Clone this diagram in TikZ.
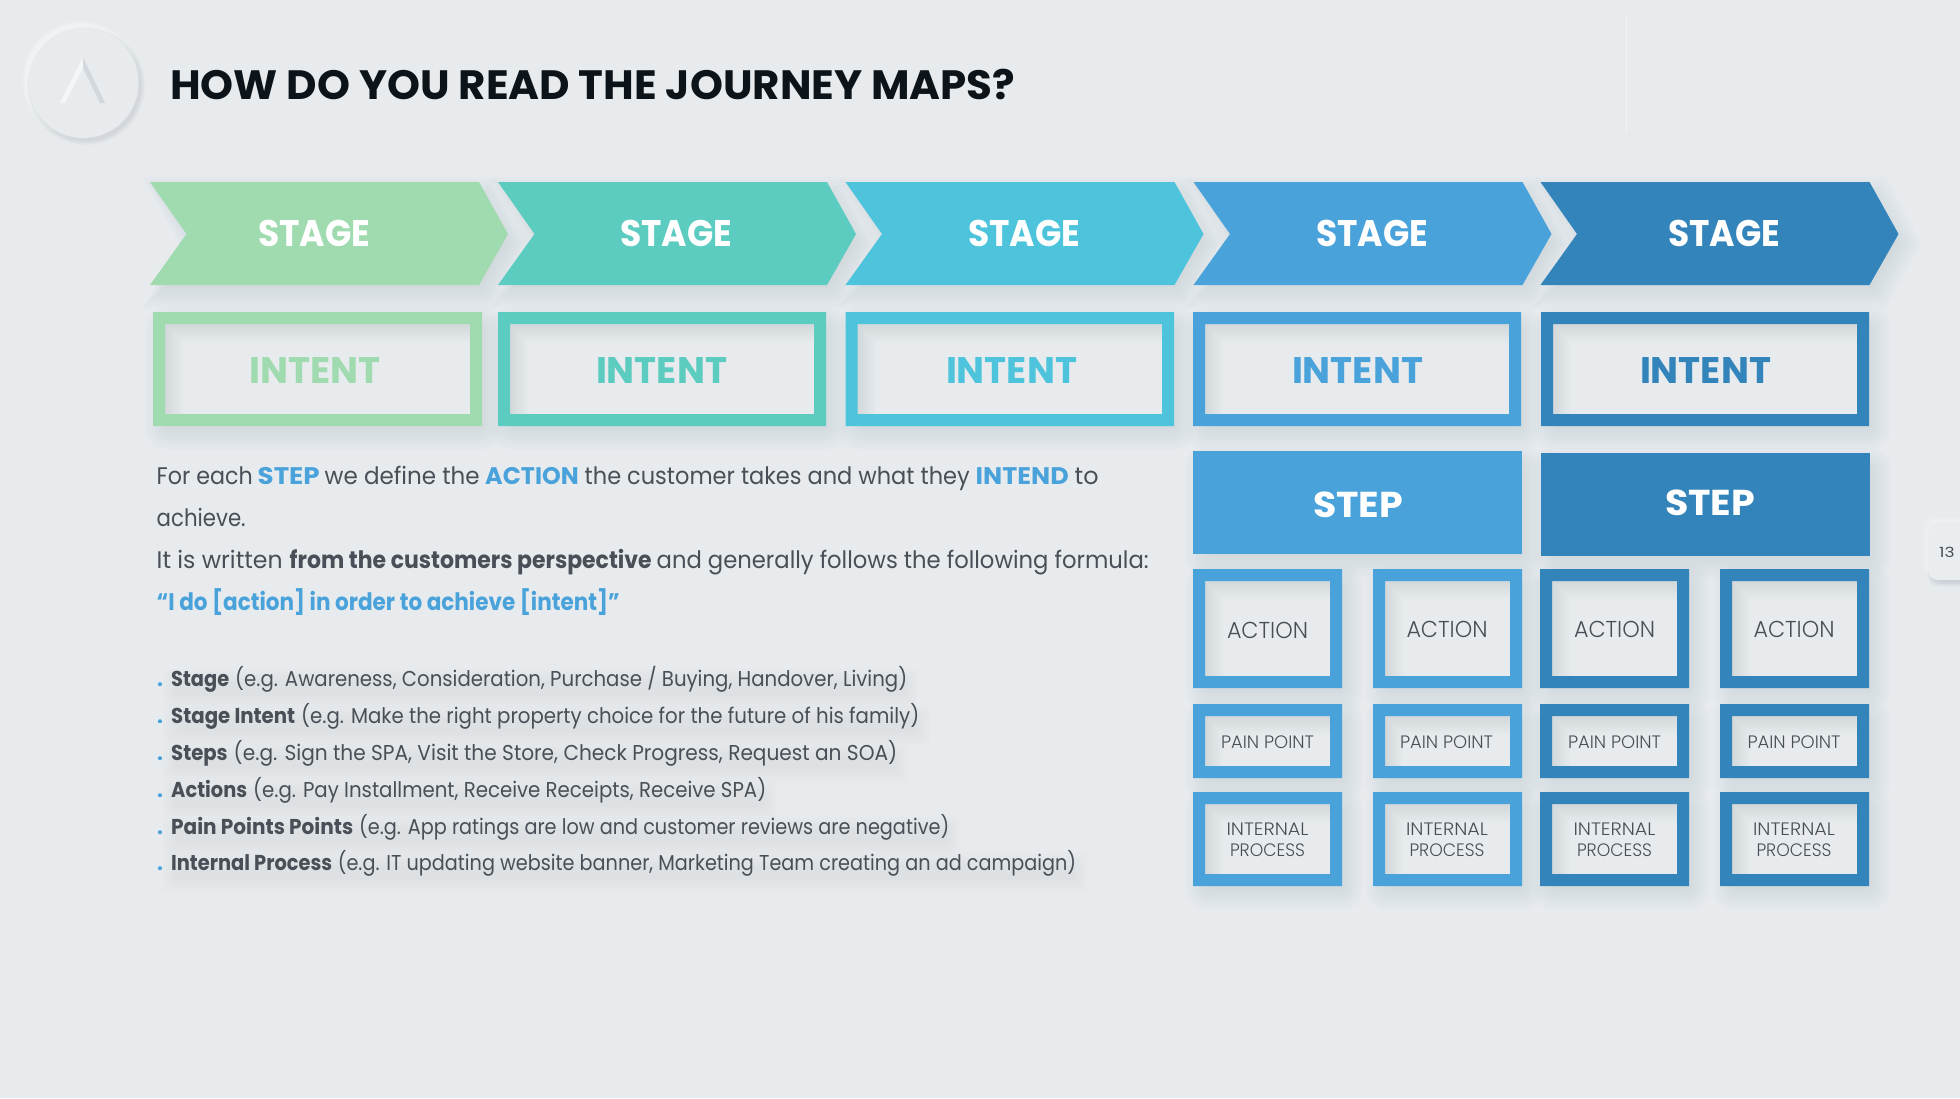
\documentclass[tikz,border=0pt]{standalone}
\usepackage{fontspec}
\usepackage{graphicx}
\setmainfont{Poppins}
\newfontfamily\lightf{Poppins Light}
\definecolor{bgc}{HTML}{E7EBEE}
\definecolor{cgreen}{HTML}{A0DBB0}
\definecolor{cteal}{HTML}{5CCBC0}
\definecolor{ccyan}{HTML}{4DC4DB}
\definecolor{cblue}{HTML}{4AA2DB}
\definecolor{cdark}{HTML}{3384BA}
\definecolor{shc}{HTML}{76828E}
\definecolor{txt}{HTML}{4A4F57}
\definecolor{ttl}{HTML}{0D1419}
\newcommand{\fitw}[2]{\resizebox{#1pt}{\height}{#2}}
\newcommand{\gp}[1]{\hspace*{#1pt}}
\tikzset{
  lbl/.style={inner sep=0pt,anchor=base},
  lline/.style={inner sep=0pt,anchor=base west,text=txt},
}
% soft outer shadow of a rectangle
\newcommand{\softrect}[4]{%
  \foreach \d in {-10,-7,-4,-1,2,5,8,11,14}{
    \fill[shc,opacity=0.021,rounded corners={max(\d+10,1)*0.8pt}] ({#1+7-\d},{#2+9-\d}) rectangle ({#3+7+\d},{#4+9+\d});
  }}
% soft outer shadow of a stage chevron: x of left corner
\newcommand{\softchev}[1]{%
  \foreach \d in {-10,-7,-4,-1,2,5,8,11,14}{
    \fill[shc,opacity=0.021,line join=round]
      ({#1+7-\d},{182+9-\d}) -- ({#1+336+\d*.7},{182+9-\d}) -- ({#1+365+\d*1.1},{234+9}) -- ({#1+336+\d*.7},{285+9+\d}) -- ({#1+7-\d},{285+9+\d}) -- ({#1+43-\d},{234+9}) -- cycle;
  }}
% frame with outer and inner shadows
\newcommand{\frameit}[5]{%
  \softrect{#1}{#2}{#3}{#4}
  \pgfmathsetmacro{\ax}{#1+12}\pgfmathsetmacro{\ay}{#2+12}
  \pgfmathsetmacro{\bx}{#3-12}\pgfmathsetmacro{\by}{#4-12}
  \fill[bgc] (\ax,\ay) rectangle (\bx,\by);
  \begin{scope}
    \clip (\ax,\ay) rectangle (\bx,\by);
    \foreach \d in {0,3,6,9,12,15,18}{
      \fill[shc,opacity=0.026,even odd rule] ({\ax-5},{\ay-5}) rectangle ({\bx+50},{\by+50}) ({\ax+\d},{\ay+\d}) rectangle ({\bx+40},{\by+40});
    }
  \end{scope}
  \fill[#5,even odd rule] (#1,#2) rectangle (#3,#4) (\ax,\ay) rectangle (\bx,\by);
}
\newcommand{\chev}[2]{%
  \pgfmathsetmacro{\xa}{#1}\pgfmathsetmacro{\xs}{#1+329}\pgfmathsetmacro{\xt}{#1+358}\pgfmathsetmacro{\xn}{#1+36.5}
  \softchev{#1}
  \fill[#2] (\xa,182) -- (\xs,182) -- (\xt,234) -- (\xs,285) -- (\xa,285) -- (\xn,234) -- cycle;
}
\newcommand{\softband}[3]{%
  \foreach \d in {1,4,7,10,13}{\fill[shc,opacity=0.011,rounded corners=4pt] ({#1-\d},{#3-4-\d}) rectangle ({#2+\d},{#3+9+\d});}}
\begin{document}
\begin{tikzpicture}[x=1pt,y=-1pt]
\useasboundingbox (0,0) rectangle (1960,1098);
\fill[bgc] (0,0) rectangle (1960,1098);

% logo
\foreach \r in {56,57,58,59}{\fill[white,opacity=0.13] (81,80) circle (\r);}
\foreach \r in {55,56,57,58,59}{\fill[shc,opacity=0.035] (86,86) circle (\r);}
\fill[bgc] (83.5,83) circle (55);
\fill[white,opacity=.55] (83,57) -- (60,103) -- (65,103) -- (83,68) -- cycle;
\fill[shc,opacity=.18] (83,57) -- (105,103) -- (100,103) -- (83,68) -- cycle;
\draw[white,opacity=.45,line width=1pt] (1626.5,16) -- (1626.5,132);

\node[lbl,anchor=base west,text=ttl,font=\bfseries\fontsize{41}{41}\selectfont] (title) at (170,99) {\fitw{845}{HOW DO YOU READ THE JOURNEY MAPS?}};

% stages
\chev{150}{cgreen}\chev{498}{cteal}\chev{845.5}{ccyan}\chev{1193.5}{cblue}\chev{1540.5}{cdark}
\tikzset{stagetxt/.style={lbl,text=white,font=\bfseries\fontsize{37}{37}\selectfont}}
\node[stagetxt] (s1) at (314,246) {\fitw{112}{STAGE}};
\node[stagetxt] (s2) at (676,246) {\fitw{112}{STAGE}};
\node[stagetxt] (s3) at (1024,246) {\fitw{112}{STAGE}};
\node[stagetxt] (s4) at (1372,246) {\fitw{112}{STAGE}};
\node[stagetxt] (s5) at (1724,246) {\fitw{112}{STAGE}};

% intents
\frameit{153}{312}{482}{426}{cgreen}
\frameit{498}{312}{826}{426}{cteal}
\frameit{845.5}{312}{1174}{426}{ccyan}
\frameit{1193}{312}{1521}{426}{cblue}
\frameit{1541}{312}{1869}{426}{cdark}
\tikzset{inttxt/.style={lbl,font=\bfseries\fontsize{37}{37}\selectfont}}
\node[inttxt,text=cgreen] (i1) at (315,383) {\fitw{131}{INTENT}};
\node[inttxt,text=cteal] (i2) at (661.5,383) {\fitw{131}{INTENT}};
\node[inttxt,text=ccyan] (i3) at (1011.5,383) {\fitw{131}{INTENT}};
\node[inttxt,text=cblue] (i4) at (1357.5,383) {\fitw{131}{INTENT}};
\node[inttxt,text=cdark] (i5) at (1705.5,383) {\fitw{131}{INTENT}};

% steps
\softrect{1193}{451}{1522}{554}
\fill[cblue] (1193,451) rectangle (1522,554);
\softrect{1541}{453}{1870}{556}
\fill[cdark] (1541,453) rectangle (1870,556);
\tikzset{steptxt/.style={lbl,text=white,font=\bfseries\fontsize{36}{36}\selectfont}}
\node[steptxt] (st1) at (1358,517.5) {\fitw{90}{STEP}};
\node[steptxt] (st2) at (1710,515.5) {\fitw{90}{STEP}};

% grid of frames
\foreach \xa/\xb/\c in {1193/1342/cblue,1373/1522/cblue,1540/1689/cdark,1720/1869/cdark}{
  \frameit{\xa}{569}{\xb}{688}{\c}
  \frameit{\xa}{704}{\xb}{778}{\c}
  \frameit{\xa}{792}{\xb}{886}{\c}
}
\tikzset{
  acttxt/.style={lbl,text=txt,font=\lightf\fontsize{23}{23}\selectfont},
  paintxt/.style={lbl,text=txt,font=\lightf\fontsize{18}{18}\selectfont},
  inttxtb/.style={lbl,text=txt,font=\lightf\fontsize{18}{18}\selectfont}
}
\node[acttxt] (a1) at (1267.5,638) {\fitw{81}{ACTION}};
\node[acttxt] (a2) at (1447,637) {\fitw{81}{ACTION}};
\node[acttxt] (a3) at (1614.5,637) {\fitw{81}{ACTION}};
\node[acttxt] (a4) at (1794,637) {\fitw{81}{ACTION}};
\node[paintxt] (p1) at (1267.5,748) {\fitw{93}{PAIN POINT}};
\node[paintxt] (p2) at (1446.5,748) {\fitw{93}{PAIN POINT}};
\node[paintxt] (p3) at (1614.5,748) {\fitw{93}{PAIN POINT}};
\node[paintxt] (p4) at (1794,748) {\fitw{93}{PAIN POINT}};
\node[inttxtb] (n1a) at (1267.5,835) {\fitw{82}{INTERNAL}};
\node[inttxtb] (n1b) at (1267.5,856) {\fitw{75}{PROCESS}};
\node[inttxtb] (n2a) at (1447,835) {\fitw{82}{INTERNAL}};
\node[inttxtb] (n2b) at (1447,856) {\fitw{75}{PROCESS}};
\node[inttxtb] (n3a) at (1614.5,835) {\fitw{82}{INTERNAL}};
\node[inttxtb] (n3b) at (1614.5,856) {\fitw{75}{PROCESS}};
\node[inttxtb] (n4a) at (1794,835) {\fitw{82}{INTERNAL}};
\node[inttxtb] (n4b) at (1794,856) {\fitw{75}{PROCESS}};

% page tab
\begin{scope}
  \clip (1900,490) rectangle (1960,620);
  \foreach \d in {1,3,5}{\fill[white,opacity=0.14,rounded corners=10pt] ({1928-\d},{522-\d}) rectangle (1990,575);}
  \foreach \d in {-3,-1,1,3}{\fill[shc,opacity=0.09,rounded corners=10pt] ({1931-\d},{530}) rectangle (1990,{583+\d});}
  \fill[bgc!90!white,rounded corners=10pt] (1928,522) rectangle (1990,580);
\end{scope}
\node[lbl,anchor=base west,text=txt,font=\fontsize{14}{14}\selectfont] (page) at (1939,557) {\fitw{15.5}{13}};

% body text
\tikzset{bodytxt/.style={lline,font=\fontsize{24}{24}\selectfont}}
\node[bodytxt] (b1) at (156.5,484.5) {\fitw{96}{For each}\gp{5}\fitw{62}{\textcolor{cblue}{\bfseries STEP}}\gp{5}\fitw{155}{we define the}\gp{5.5}\fitw{93.5}{\textcolor{cblue}{\bfseries ACTION}}\gp{6}\fitw{385}{the customer takes and what they}\gp{6}\fitw{93}{\textcolor{cblue}{\bfseries INTEND}}\gp{6}\fitw{24}{to}};
\node[bodytxt] (b2) at (156.5,526.5) {\fitw{89}{achieve.}};
\node[bodytxt] (b3) at (156.5,568.5) {\fitw{126}{It is written}\gp{7}\fitw{362}{\bfseries from the customers perspective}\gp{5}\fitw{492}{and generally follows the following formula:}};
\node[bodytxt,text=cblue] (b4) at (156.5,610.5) {\fitw{463}{\bfseries “I do [action] in order to achieve [intent]”}};

% list
\softband{176}{905}{686}
\softband{176}{917}{723}
\softband{176}{895}{760}
\softband{176}{764}{797}
\softband{176}{947}{834}
\softband{176}{1074}{870}
\tikzset{listtxt/.style={lline,font=\fontsize{21.5}{21.5}\selectfont},dotm/.style={inner sep=0pt,anchor=base,text=cblue,font=\bfseries\fontsize{21}{21}\selectfont}}
\foreach \n/\y in {1/686,2/723,3/760,4/797,5/834,6/870}{\node[dotm] (d\n) at (160,\y) {.};}
\node[listtxt] (l1) at (171,686) {\fitw{58}{\bfseries Stage}\gp{6}\fitw{672}{(e.g. Awareness, Consideration, Purchase / Buying, Handover, Living)}};
\node[listtxt] (l2) at (171,723) {\fitw{124}{\bfseries Stage Intent}\gp{6}\fitw{618}{(e.g. Make the right property choice for the future of his family)}};
\node[listtxt] (l3) at (171,760) {\fitw{56.5}{\bfseries Steps}\gp{6}\fitw{663.5}{(e.g. Sign the SPA, Visit the Store, Check Progress, Request an SOA)}};
\node[listtxt] (l4) at (171,797) {\fitw{76}{\bfseries Actions}\gp{6}\fitw{513}{(e.g. Pay Installment, Receive Receipts, Receive SPA)}};
\node[listtxt] (l5) at (171,834) {\fitw{182}{\bfseries Pain Points Points}\gp{6}\fitw{590}{(e.g. App ratings are low and customer reviews are negative)}};
\node[listtxt] (l6) at (171,870) {\fitw{161}{\bfseries Internal Process}\gp{5.6}\fitw{738.4}{(e.g. IT updating website banner, Marketing Team creating an ad campaign)}};
\end{tikzpicture}
\end{document}
